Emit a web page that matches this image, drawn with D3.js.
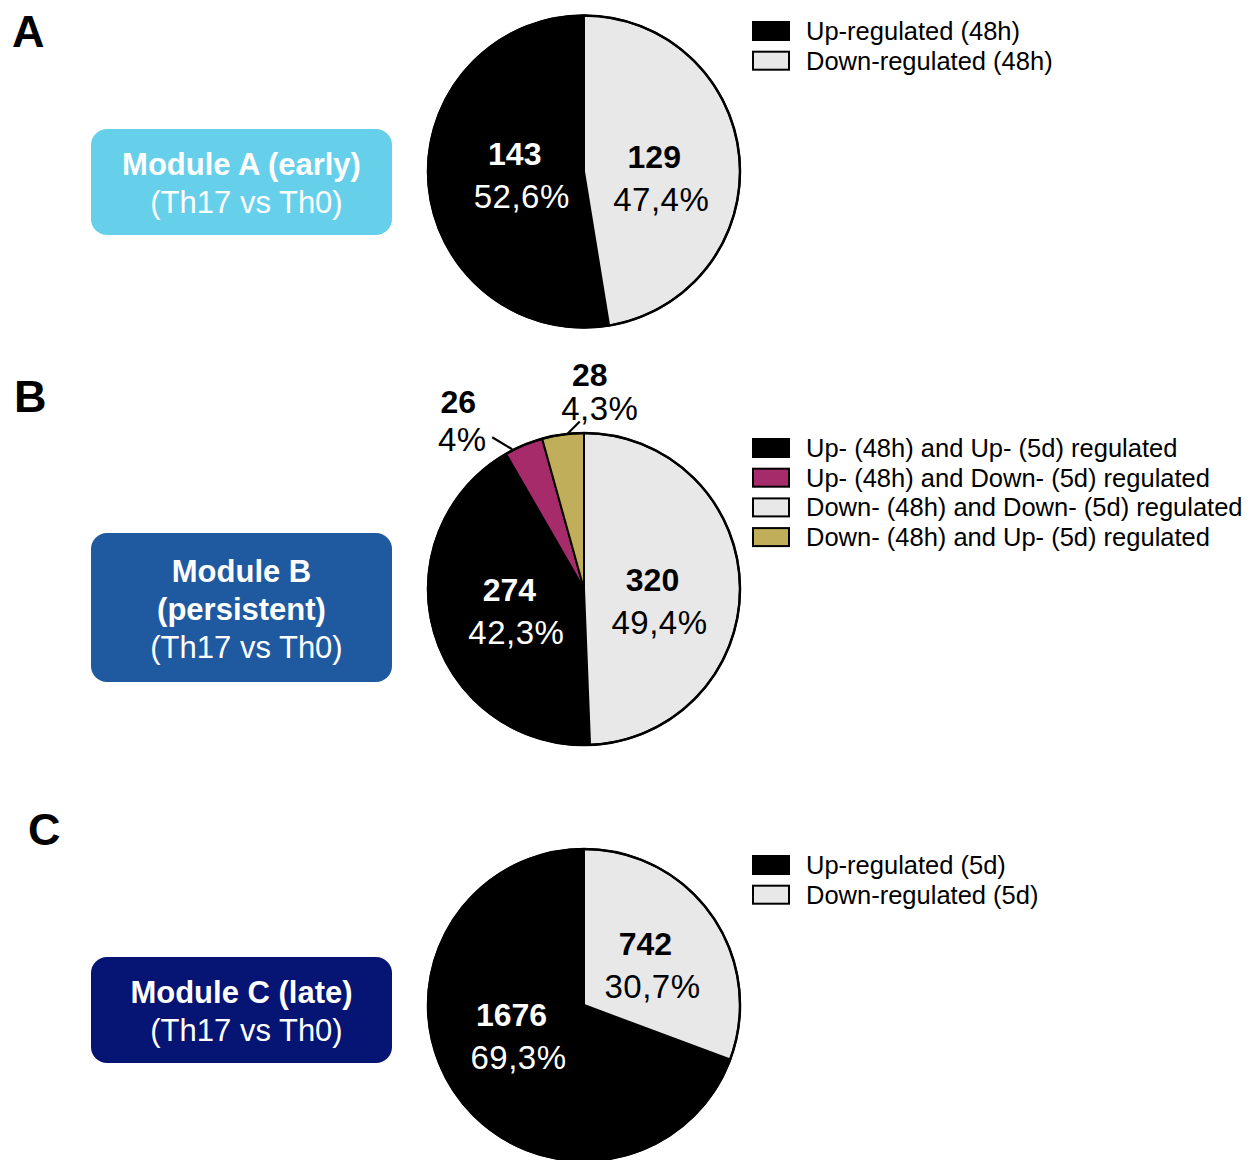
<!DOCTYPE html>
<html>
<head>
<meta charset="utf-8">
<script src="https://cdn.jsdelivr.net/npm/d3@7/dist/d3.min.js"></script>
<style>
  html, body { margin: 0; padding: 0; background: #fff; }
  svg { display: block; }
  text { font-family: "Liberation Sans", Arial, Helvetica, sans-serif; }
</style>
</head>
<body>
<svg id="chart" width="1258" height="1160"></svg>
<script>
// ---------- DATA ----------
const catsA = ["Up-regulated (48h)", "Down-regulated (48h)"];
const valsA = [143, 129];
const pctsA = ["52,6%", "47,4%"];

const catsB = ["Up- (48h) and Up- (5d) regulated", "Up- (48h) and Down- (5d) regulated",
               "Down- (48h) and Down- (5d) regulated", "Down- (48h) and Up- (5d) regulated"];
const valsB = [274, 26, 320, 28];
const pctsB = ["42,3%", "4%", "49,4%", "4,3%"];

const catsC = ["Up-regulated (5d)", "Down-regulated (5d)"];
const valsC = [1676, 742];
const pctsC = ["69,3%", "30,7%"];

const panelLetters = ["A", "B", "C"];
const moduleTitlesA = ["Module A (early)"];
const moduleTitlesB = ["Module B", "(persistent)"];
const moduleTitlesC = ["Module C (late)"];
const moduleSubtitle = "(Th17 vs Th0)";

// ---------- STYLE / LAYOUT ----------
const BLACK = "#000000", LIGHT = "#E8E8E8", MAGENTA = "#A62B6A", GOLD = "#C0AE5A";

const panels = [
  { letter: panelLetters[0], letterX: 12, letterY: 47,
    cats: catsA, vals: valsA, pcts: pctsA, colors: [BLACK, LIGHT], order: [1, 0],
    cy: 171.5, legendY: 31,
    box: { y: 129, h: 106, fill: "#66D0EB" }, titles: moduleTitlesA,
    nudges: [[7, -2], [1, 12]], outside: {} },
  { letter: panelLetters[1], letterX: 14, letterY: 412,
    cats: catsB, vals: valsB, pcts: pctsB, colors: [BLACK, MAGENTA, LIGHT, GOLD], order: [2, 0, 1, 3],
    cy: 589, legendY: 448,
    box: { y: 533, h: 149, fill: "#1F5AA0" }, titles: moduleTitlesB,
    nudges: [[-1, 2], [0, 0], [-1, 13], [0, 0]],
    outside: {
      1: { start: [-11, 5], end: [-20, -12], num: [-34, -24], pct: [-30, 14] },
      3: { start: [5, 0], end: [12, -12], num: [10, -35], pct: [20, -1] }
    } },
  { letter: panelLetters[2], letterX: 28, letterY: 845,
    cats: catsC, vals: valsC, pcts: pctsC, colors: [BLACK, LIGHT], order: [1, 0],
    cy: 1005, legendY: 865,
    box: { y: 957, h: 106, fill: "#061474" }, titles: moduleTitlesC,
    nudges: [[-9, -11], [5, 2]], outside: {} }
];

const cx = 584, R = 156, labelR = 73;
const boxX = 91, boxW = 301, boxRx = 16;
const legX = 753, legBoxW = 36, legBoxH = 18, legTextX = 806, legStep = 29.7;

const svg = d3.select("#chart");

panels.forEach(p => {
  const g = svg.append("g");

  // panel letter
  g.append("text").attr("x", p.letterX).attr("y", p.letterY)
    .attr("font-size", 45).attr("font-weight", "bold").attr("fill", "#000")
    .text(p.letter);

  // module box
  g.append("rect").attr("x", boxX).attr("y", p.box.y).attr("width", boxW).attr("height", p.box.h)
    .attr("rx", boxRx).attr("ry", boxRx).attr("fill", p.box.fill);
  const lines = p.titles.map(t => ({ t, bold: true })).concat([{ t: moduleSubtitle, bold: false }]);
  const boxCy = p.box.y + p.box.h / 2 + 1;
  const lineStep = 38;
  lines.forEach((ln, i) => {
    const c = boxCy + (i - (lines.length - 1) / 2) * lineStep;
    g.append("text").attr("x", boxX + boxW / 2 + (ln.bold ? 0 : 5)).attr("y", c + 11)
      .attr("text-anchor", "middle").attr("font-size", 31)
      .attr("font-weight", ln.bold ? "bold" : "normal").attr("fill", "#fff")
      .text(ln.t);
  });

  // pie
  const data = p.vals.map((v, i) => ({ i, v }));
  const pie = d3.pie().value(d => d.v)
    .sort((a, b) => p.order.indexOf(a.i) - p.order.indexOf(b.i));
  const arcs = pie(data);
  const arc = d3.arc().innerRadius(0).outerRadius(R);
  const labelArc = d3.arc().innerRadius(labelR).outerRadius(labelR);
  const pg = g.append("g").attr("transform", `translate(${cx},${p.cy})`);

  pg.selectAll("path.slice").data(arcs).join("path")
    .attr("class", "slice")
    .attr("d", arc)
    .attr("fill", d => p.colors[d.data.i])
    .attr("stroke", "#000").attr("stroke-width", 2).attr("stroke-linejoin", "round");
  pg.append("circle").attr("r", R).attr("fill", "none").attr("stroke", "#000").attr("stroke-width", 2.5);

  arcs.forEach(a => {
    const i = a.data.i;
    const o = p.outside[i];
    if (o) {
      const mid = (a.startAngle + a.endAngle) / 2;
      const sx = Math.sin(mid) * (R + 1) + o.start[0];
      const sy = -Math.cos(mid) * (R + 1) + o.start[1];
      const ex = sx + o.end[0], ey = sy + o.end[1];
      pg.append("line").attr("x1", sx).attr("y1", sy).attr("x2", ex).attr("y2", ey)
        .attr("stroke", "#000").attr("stroke-width", 2.2);
      pg.append("text").attr("x", ex + o.num[0]).attr("y", ey + o.num[1])
        .attr("text-anchor", "middle").attr("font-size", 32).attr("font-weight", "bold")
        .attr("fill", "#000").text(p.vals[i]);
      pg.append("text").attr("x", ex + o.pct[0]).attr("y", ey + o.pct[1])
        .attr("text-anchor", "middle").attr("font-size", 33).attr("letter-spacing", 0.5)
        .attr("fill", "#000").text(p.pcts[i]);
    } else {
      const c = labelArc.centroid(a);
      const ax = c[0] + p.nudges[i][0], ay = c[1] + p.nudges[i][1];
      const col = p.colors[i] === BLACK ? "#fff" : "#000";
      pg.append("text").attr("x", ax - 3.5).attr("y", ay - 10)
        .attr("text-anchor", "middle").attr("font-size", 32).attr("font-weight", "bold")
        .attr("fill", col).text(p.vals[i]);
      pg.append("text").attr("x", ax + 3.5).attr("y", ay + 33)
        .attr("text-anchor", "middle").attr("font-size", 33).attr("letter-spacing", 0.5)
        .attr("fill", col).text(p.pcts[i]);
    }
  });

  // legend
  p.cats.forEach((c, i) => {
    const yc = p.legendY + i * legStep;
    g.append("rect").attr("x", legX).attr("y", yc - legBoxH / 2)
      .attr("width", legBoxW).attr("height", legBoxH)
      .attr("fill", p.colors[i]).attr("stroke", "#000").attr("stroke-width", 2);
    g.append("text").attr("x", legTextX).attr("y", yc + 9)
      .attr("font-size", 25.5).attr("fill", "#000").text(c);
  });
});
</script>
</body>
</html>
